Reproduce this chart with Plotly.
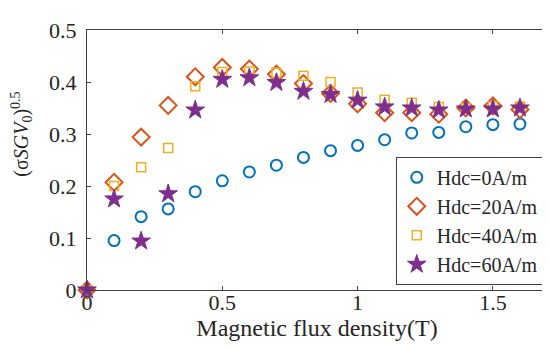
import plotly.graph_objects as go

x_vals = [0, 0.1, 0.2, 0.3, 0.4, 0.5, 0.6, 0.7, 0.8, 0.9, 1.0, 1.1, 1.2, 1.3, 1.4, 1.5, 1.6]
hdc0 = [0, 0.095, 0.141, 0.156, 0.189, 0.210, 0.227, 0.240, 0.255, 0.268, 0.278, 0.289, 0.302, 0.303, 0.314, 0.318, 0.319]
hdc20 = [0, 0.207, 0.294, 0.355, 0.410, 0.428, 0.425, 0.415, 0.397, 0.378, 0.358, 0.341, 0.341, 0.338, 0.350, 0.354, 0.347]
hdc40 = [0, 0.200, 0.236, 0.273, 0.392, 0.419, 0.420, 0.418, 0.412, 0.400, 0.380, 0.366, 0.360, 0.352, 0.350, 0.353, 0.353]
hdc60 = [0, 0.175, 0.094, 0.185, 0.346, 0.405, 0.408, 0.399, 0.382, 0.376, 0.365, 0.352, 0.350, 0.346, 0.348, 0.348, 0.350]
names = ["Hdc=0A/m", "Hdc=20A/m", "Hdc=40A/m", "Hdc=60A/m"]
colors = ["#0072BD", "#D95319", "#EDB120", "#7E2F8E"]
x_ticks = [0, 0.5, 1, 1.5]
x_tick_labels = ["0", "0.5", "1", "1.5"]
y_ticks = [0, 0.1, 0.2, 0.3, 0.4, 0.5]
y_tick_labels = ["0", "0.1", "0.2", "0.3", "0.4", "0.5"]

FONT = "Liberation Serif, Times New Roman, serif"
fig = go.Figure()
fig.add_trace(go.Scatter(x=x_vals, y=hdc0, mode="markers", name=names[0], cliponaxis=False,
                         marker=dict(symbol="circle-open", size=11, color=colors[0], line=dict(width=2, color=colors[0]))))
fig.add_trace(go.Scatter(x=x_vals, y=hdc20, mode="markers", name=names[1], cliponaxis=False,
                         marker=dict(symbol="diamond-open", size=13, color=colors[1], line=dict(width=2, color=colors[1]))))
fig.add_trace(go.Scatter(x=x_vals, y=hdc40, mode="markers", name=names[2], cliponaxis=False,
                         marker=dict(symbol="square-open", size=9, color=colors[2], line=dict(width=1.5, color=colors[2]))))
fig.add_trace(go.Scatter(x=x_vals, y=hdc60, mode="markers", name=names[3], cliponaxis=False,
                         marker=dict(symbol="star", size=14, color=colors[3], line=dict(width=1, color=colors[3]))))

axis_common = dict(showgrid=False, zeroline=False, showline=True, linecolor="#404040", linewidth=1,
                   mirror="ticks", ticks="inside", ticklen=4, tickcolor="#404040",
                   tickfont=dict(family=FONT, size=22, color="#262626"))
fig.update_layout(
    width=550, height=348,
    margin=dict(l=79, r=10, t=15, b=66),
    plot_bgcolor="white", paper_bgcolor="white",
    font=dict(family=FONT, color="#262626"),
    xaxis=dict(range=[0, 1.7], tickvals=x_ticks, ticktext=x_tick_labels, ticklabelstandoff=-7,
               title=dict(text="Magnetic flux density(T)", font=dict(family=FONT, size=24), standoff=2),
               **axis_common),
    yaxis=dict(range=[0, 0.5], tickvals=y_ticks, ticktext=y_tick_labels, ticklabelstandoff=5,
               **axis_common),
    legend=dict(x=0.993, y=0.02, xanchor="right", yanchor="bottom", bordercolor="#404040", borderwidth=1,
                bgcolor="white", font=dict(family=FONT, size=20, color="#262626"),
                tracegroupgap=0, itemsizing="trace"),
    showlegend=True,
    annotations=[dict(text="(σ<i>SGV</i><sub>0</sub>)<sup>0.5</sup>", textangle=-90,
                      xref="paper", yref="paper", x=-0.142, y=0.6, xanchor="center", yanchor="middle",
                      showarrow=False, font=dict(family=FONT, size=20, color="#262626"))],
)
fig.write_html("out.html")
